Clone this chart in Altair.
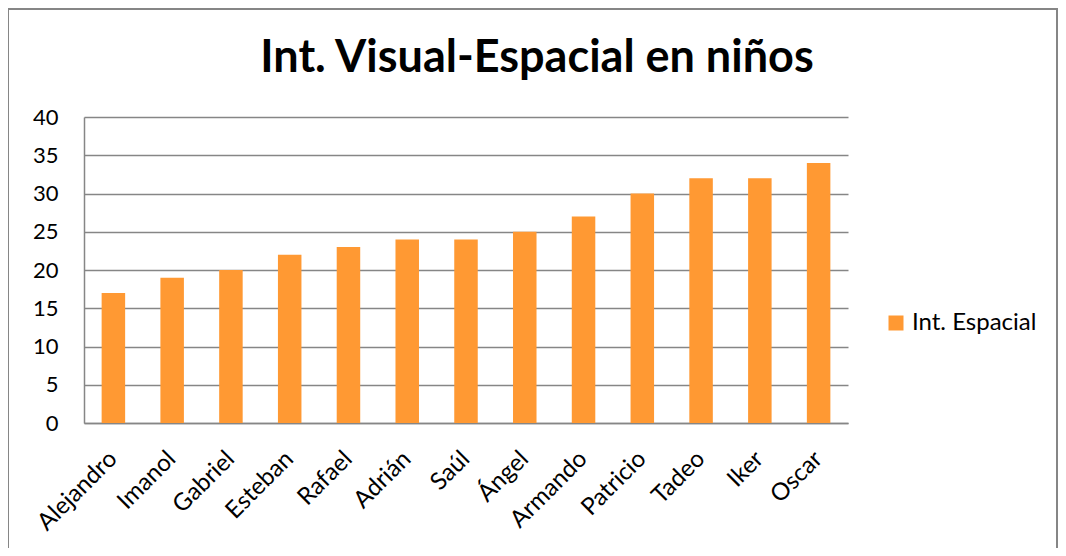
import altair as alt
import pandas as pd

nombres = ["Alejandro", "Imanol", "Gabriel", "Esteban", "Rafael", "Adrián", "Saúl",
           "Ángel", "Armando", "Patricio", "Tadeo", "Iker", "Oscar"]
valores = [17, 19, 20, 22, 23, 24, 24, 25, 27, 30, 32, 32, 34]
serie = "Int. Espacial"
titulo = "Int. Visual-Espacial en niños"
y_ticks = [0, 5, 10, 15, 20, 25, 30, 35, 40]

FONT = "Lato"
GRAY = "#868686"

df = pd.DataFrame({"nombre": nombres, "valor": valores, "serie": [serie] * len(nombres)})

W, H = 764, 306

bars = alt.Chart(df).mark_bar(color="#FF9933").encode(
    x=alt.X("nombre:N", sort=nombres, title=None,
            scale=alt.Scale(paddingInner=0.6, paddingOuter=0.3),
            axis=alt.Axis(labelAngle=315, labelAlign="right", labelBaseline="middle",
                          labelPadding=32, ticks=False, domainColor=GRAY, domainWidth=1.5,
                          labelFontSize=24, labelFont=FONT, labelColor="#000000", grid=False)),
    y=alt.Y("valor:Q", title=None,
            scale=alt.Scale(domain=[0, 40], nice=False),
            axis=alt.Axis(values=y_ticks, ticks=False, labelPadding=26, domainColor=GRAY,
                          domainWidth=1.5, gridColor=GRAY, gridWidth=1.5, labelFontSize=22,
                          labelFont=FONT, labelColor="#000000")),
    color=alt.Color("serie:N", scale=alt.Scale(domain=[serie], range=["#FF9933"]),
                    legend=alt.Legend(title=None, orient="none", legendX=800, legendY=194,
                                      symbolType="square", symbolSize=225, symbolStrokeWidth=0,
                                      labelFontSize=24, labelFont=FONT, labelColor="#000000",
                                      labelOffset=4, padding=0)),
)

frame_df = pd.DataFrame({"k": [0]})
frame = alt.Chart(frame_df).mark_rect(fill="transparent", stroke=GRAY, strokeWidth=2).encode(
    x=alt.value(-76), x2=alt.value(973), y=alt.value(-108), y2=alt.value(450)
)

title_df = pd.DataFrame({"t": [titulo]})
title = alt.Chart(title_df).mark_text(font=FONT, fontSize=45, fontWeight="bold",
                                      align="center", baseline="alphabetic", color="#000000").encode(
    text="t:N", x=alt.value(453), y=alt.value(-45)
)

chart = alt.layer(frame, bars, title).properties(
    width=W, height=H,
    autosize=alt.AutoSizeParams(type="none"),
    padding={"left": 76, "top": 109, "right": 210, "bottom": 125},
).configure(background="white", view=alt.ViewConfig(strokeWidth=0))

chart.save("out.html", embed_options={"renderer": "svg", "actions": False})
